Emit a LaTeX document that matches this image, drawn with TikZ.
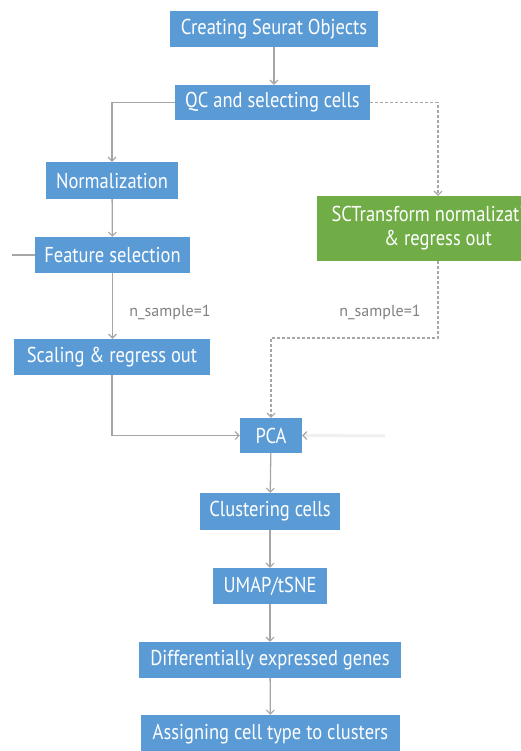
\documentclass[tikz,border=0pt]{standalone}
\usepackage{fontspec}
\setmainfont{PT Sans}
\newfontfamily\boxfont{PT Sans}[FakeStretch=0.86]
\usetikzlibrary{arrows.meta}
\definecolor{bfill}{HTML}{5B9BD5}
\definecolor{gfill}{HTML}{70AD47}
\definecolor{lncol}{HTML}{A6A6A6}
\definecolor{lblcol}{HTML}{808080}
\begin{document}
\begin{tikzpicture}[x=1pt,y=-1pt,
  box/.style={fill=bfill,text=white,inner sep=0pt,minimum height=36pt,
    font=\boxfont\fontsize{21.5}{24}\selectfont},
  greenbox/.style={box,fill=gfill,align=center},
  conn/.style={draw=lncol,line width=1.3pt,
    -{Straight Barb[length=4pt,width=8pt,line width=1.1pt]}},
  plain/.style={draw=lncol,line width=1.3pt},
  dashconn/.style={conn,dash pattern=on 3pt off 2pt},
  faintconn/.style={draw=black!6,line width=3pt,
    -{Straight Barb[length=4pt,width=8pt,line width=1.1pt,color=lncol]}},
  lbl/.style={text=lblcol,font=\fontsize{16}{18}\selectfont,inner sep=0pt}]
\useasboundingbox (0,0) rectangle (521,751);
\clip (0,0) rectangle (521,751);
\node[box,minimum width=208pt] (cso) at (274,29) {Creating Seurat Objects};
\node[box,minimum width=195pt,minimum height=35pt] (qc) at (272.5,102.5) {QC and selecting cells};
\node[box,minimum width=132pt,minimum height=37pt] (norm) at (112,180.5) {Normalization};
\node[box,minimum width=155pt] (fs) at (112.5,255) {Feature selection};
\node[box,minimum width=196pt] (sc) at (112,357) {Scaling \& regress out};
\node[greenbox,minimum width=242pt,minimum height=65pt] (sct) at (438,228.5) {SCTransform normalization\\\& regress out};
\node[box,minimum width=62pt,minimum height=35pt] (pca) at (271,435.5) {PCA};
\node[box,minimum width=140pt,minimum height=37pt] (clu) at (270,511.5) {Clustering cells};
\node[box,minimum width=114pt] (umap) at (270,586) {UMAP/tSNE};
\node[box,minimum width=262pt] (deg) at (270,660) {Differentially expressed genes};
\node[box,minimum width=259pt,minimum height=38pt] (act) at (270.5,734) {Assigning cell type to clusters};
\node[lbl] (l1) at (170,312) {n\_sample=1};
\node[lbl] (l2) at (380,312) {n\_sample=1};
\coordinate (stub) at (12,255);
\coordinate (bend) at (271,338);
\coordinate (faint) at (385,436);
\draw[conn] (cso.south) -- (cso.south |- qc.north);
\draw[conn] (qc.west) -| (norm.north);
\draw[dashconn] (qc.east) -| (sct.north);
\draw[conn] (norm) -- (fs);
\draw[plain] (stub) -- (fs.west);
\draw[conn] (fs.south) -- (fs.south |- sc.north);
\draw[dashconn] (sct.south) |- (bend) -- (pca.north);
\draw[conn] (sc.south) |- (pca.west);
\draw[faintconn] (faint) -- (pca.east);
\draw[conn] (pca) -- (clu);
\draw[conn] (clu) -- (umap);
\draw[conn] (umap) -- (deg);
\draw[conn] (deg) -- (act);
\end{tikzpicture}
\end{document}
